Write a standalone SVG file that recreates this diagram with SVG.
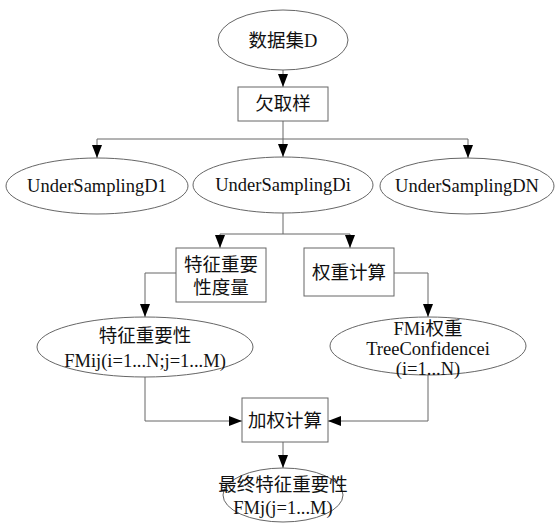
<svg xmlns="http://www.w3.org/2000/svg" width="555" height="526" viewBox="0 0 555 526">
<style>
.n{fill:#fff;stroke:#666;stroke-width:1}
.t{font-family:"Liberation Serif","Noto Sans CJK SC",serif;font-size:18.5px;fill:#111;text-anchor:middle}
.e{fill:none;stroke:#666;stroke-width:1}
</style>
<defs>
<marker id="a" markerUnits="userSpaceOnUse" markerWidth="14" markerHeight="10" refX="13" refY="5" orient="auto">
<path d="M0,0 L13,5 L0,10 z" fill="#000"/>
</marker>
</defs>
<rect width="555" height="526" fill="#fff"/>
<g id="edges">
<path class="e" d="M283,70 V87" marker-end="url(#a)"/>
<path class="e" d="M283,121 V139 M97,139 H468"/>
<path class="e" d="M97,139 V158" marker-end="url(#a)"/>
<path class="e" d="M283,139 V157" marker-end="url(#a)"/>
<path class="e" d="M468,139 V158" marker-end="url(#a)"/>
<path class="e" d="M283,213 V234 M220,234 H350"/>
<path class="e" d="M220,234 V248" marker-end="url(#a)"/>
<path class="e" d="M350,234 V248" marker-end="url(#a)"/>
<path class="e" d="M176,273 H145 V317" marker-end="url(#a)"/>
<path class="e" d="M394,273 H428 V317" marker-end="url(#a)"/>
<path class="e" d="M145,377 V421 H242" marker-end="url(#a)"/>
<path class="e" d="M428,375 V421 H328" marker-end="url(#a)"/>
<path class="e" d="M283,442 V468" marker-end="url(#a)"/>
</g>
<g id="dataset"><ellipse class="n" cx="283" cy="40" rx="65" ry="30"/><text class="t" x="283" y="47">数据集D</text></g>
<g id="undersample"><rect class="n" x="238" y="87" width="90" height="34"/><text class="t" x="283" y="110">欠取样</text></g>
<g id="us1"><ellipse class="n" cx="97" cy="186" rx="91" ry="28"/><text class="t" x="97" y="192">UnderSamplingD1</text></g>
<g id="usi"><ellipse class="n" cx="283" cy="185" rx="90" ry="28"/><text class="t" x="283" y="191">UnderSamplingDi</text></g>
<g id="usn"><ellipse class="n" cx="467" cy="186" rx="87" ry="28"/><text class="t" x="467" y="192">UnderSamplingDN</text></g>
<g id="featmeasure"><rect class="n" x="176" y="248" width="90" height="54"/><text class="t" x="221" y="271">特征重要</text><text class="t" x="221" y="294">性度量</text></g>
<g id="weightcalc"><rect class="n" x="304" y="248" width="90" height="48"/><text class="t" x="349" y="279">权重计算</text></g>
<g id="featimp"><ellipse class="n" cx="145" cy="347" rx="108" ry="30"/><text class="t" x="145" y="342">特征重要性</text><text class="t" x="145" y="367">FMij(i=1...N;j=1...M)</text></g>
<g id="fmiweight"><ellipse class="n" cx="428" cy="346" rx="98" ry="29"/><text class="t" x="428" y="335">FMi权重</text><text class="t" x="428" y="355">TreeConfidencei</text><text class="t" x="428" y="375">(i=1...N)</text></g>
<g id="weighted"><rect class="n" x="242" y="398" width="86" height="44"/><text class="t" x="285" y="427">加权计算</text></g>
<g id="final"><ellipse class="n" cx="283" cy="495" rx="60" ry="27"/><text class="t" x="283" y="491">最终特征重要性</text><text class="t" x="283" y="514">FMj(j=1...M)</text></g>
</svg>
